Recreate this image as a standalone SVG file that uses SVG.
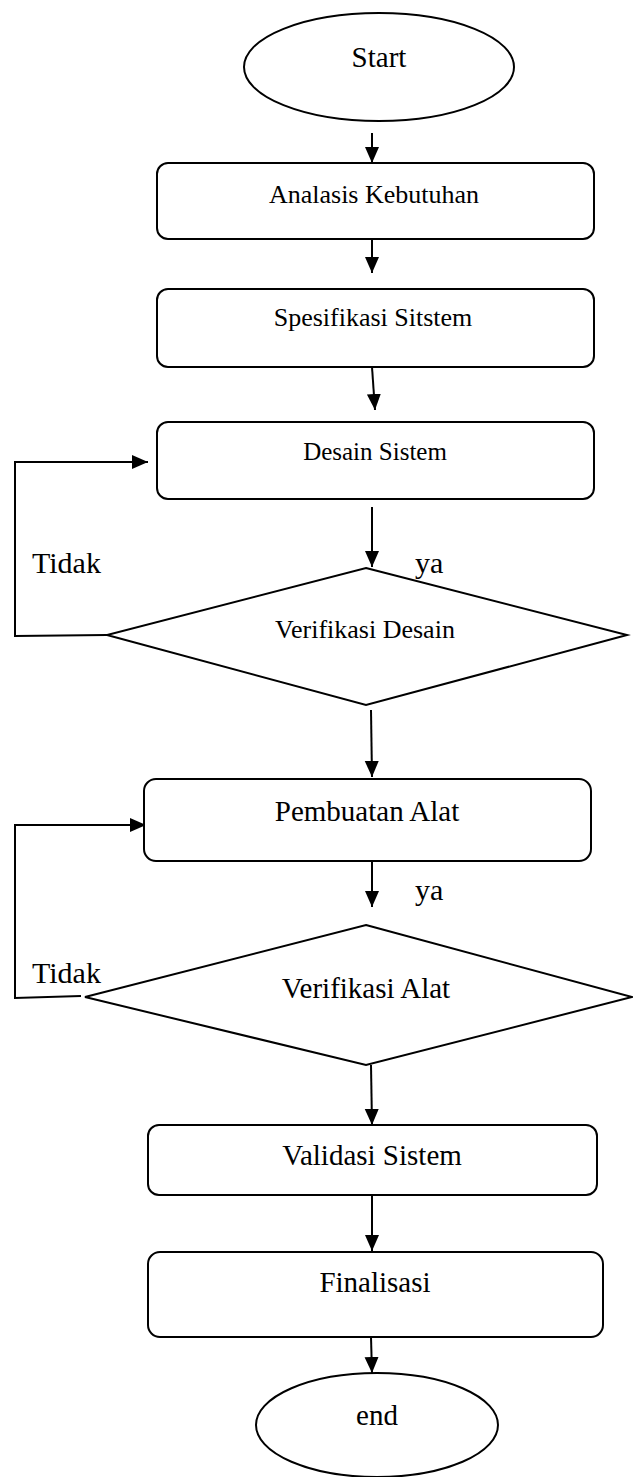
<svg xmlns="http://www.w3.org/2000/svg" width="633" height="1477" viewBox="0 0 633 1477">
<defs>
<marker id="ah" markerUnits="userSpaceOnUse" markerWidth="16" markerHeight="16" refX="16" refY="7" orient="auto">
<path d="M0,0 L16,7 L0,14 Z" fill="#000"/>
</marker>
<style>
.s{fill:#fff;stroke:#000;stroke-width:2}
.c{fill:none;stroke:#000;stroke-width:2}
.t{font-family:"Liberation Serif","Times New Roman",serif;fill:#000;text-anchor:middle}
.m{font-size:26px}
.l{font-size:29px}
.lbl{font-family:"Liberation Serif","Times New Roman",serif;fill:#000;font-size:30px}
</style>
</defs>
<rect width="633" height="1477" fill="#fff"/>
<g id="connectors">
<line class="c" x1="372" y1="133" x2="372" y2="163" marker-end="url(#ah)"/>
<line class="c" x1="372" y1="239" x2="372" y2="273" marker-end="url(#ah)"/>
<line class="c" x1="372" y1="367" x2="375" y2="410" marker-end="url(#ah)"/>
<polyline class="c" points="107,635 15,636 15,462 148,462" marker-end="url(#ah)"/>
<line class="c" x1="372" y1="507" x2="372" y2="567" marker-end="url(#ah)"/>
<line class="c" x1="371" y1="710" x2="372" y2="777" marker-end="url(#ah)"/>
<polyline class="c" points="81,996 15,998 15,825 146,825" marker-end="url(#ah)"/>
<line class="c" x1="372" y1="861" x2="372" y2="907" marker-end="url(#ah)"/>
<line class="c" x1="371" y1="1065" x2="372" y2="1125" marker-end="url(#ah)"/>
<line class="c" x1="372" y1="1195" x2="372" y2="1251" marker-end="url(#ah)"/>
<line class="c" x1="371" y1="1337" x2="372" y2="1373" marker-end="url(#ah)"/>
</g>
<g id="labels">
<text class="lbl" x="32" y="573">Tidak</text>
<text class="lbl" x="415" y="573">ya</text>
<text class="lbl" x="415" y="900">ya</text>
<text class="lbl" x="32" y="983">Tidak</text>
</g>
<g id="start">
<ellipse class="s" cx="379" cy="67" rx="135" ry="54"/>
<text class="t l" x="379" y="67">Start</text>
</g>
<g id="analisis">
<rect class="s" x="157" y="163" width="437" height="76" rx="11"/>
<text class="t m" x="374" y="203">Analasis Kebutuhan</text>
</g>
<g id="spesifikasi">
<rect class="s" x="157" y="289" width="437" height="78" rx="11"/>
<text class="t m" x="373" y="326">Spesifikasi Sitstem</text>
</g>
<g id="desain">
<rect class="s" x="157" y="422" width="437" height="77" rx="11"/>
<text class="t" style="font-size:25px" x="375" y="460">Desain Sistem</text>
</g>
<g id="verifikasi-desain">
<polygon class="s" points="366,568 627,635 366,705 107,635"/>
<text class="t m" x="365" y="638">Verifikasi Desain</text>
</g>
<g id="pembuatan">
<rect class="s" x="144" y="779" width="447" height="82" rx="12"/>
<text class="t l" x="367" y="821">Pembuatan Alat</text>
</g>
<g id="verifikasi-alat">
<polygon class="s" points="366,925 632,997 366,1065 85,997"/>
<text class="t l" x="366" y="998">Verifikasi Alat</text>
</g>
<g id="validasi">
<rect class="s" x="148" y="1125" width="449" height="70" rx="11"/>
<text class="t l" x="372" y="1165">Validasi Sistem</text>
</g>
<g id="finalisasi">
<rect class="s" x="148" y="1252" width="455" height="85" rx="12"/>
<text class="t l" x="375" y="1292">Finalisasi</text>
</g>
<g id="end">
<ellipse class="s" cx="377" cy="1425" rx="121" ry="52"/>
<text class="t l" x="377" y="1425">end</text>
</g>
</svg>
